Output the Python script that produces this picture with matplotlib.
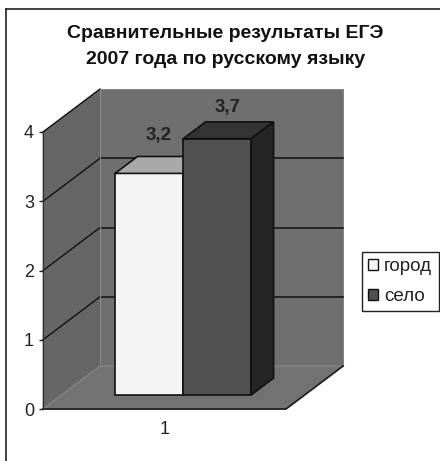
import matplotlib
matplotlib.use('Agg')
import matplotlib.pyplot as plt
from matplotlib.patches import Polygon, Rectangle

categories = ['1']
series_names = ['город', 'село']
series_values = [3.2, 3.7]
value_labels = ['3,2', '3,7']
y_ticks = [0, 1, 2, 3, 4]
title_lines = ['Сравнительные результаты ЕГЭ', '2007 года по русскому языку']

plt.rcParams['font.family'] = ['Liberation Sans', 'DejaVu Sans']

W, H = 440, 461
fig = plt.figure(figsize=(W / 100, H / 100), dpi=100, facecolor='white')
ax = fig.add_axes([43 / W, (H - 409) / H, 243 / W, 277 / H])
ax.set_xlim(0.5, 1.5)
ax.set_ylim(0, 4)
ax.patch.set_visible(False)
for s in ax.spines.values():
    s.set_visible(False)

# depth of the 3d box in data units
dx = 0.2346
dy = 0.62


def proj(x, y, d):
    return (x + dx * d, y + dy * d)


def face(pts, color, z, edge='#111111', lw=1.2):
    ax.add_patch(Polygon(pts, closed=True, facecolor=color, edgecolor=edge,
                         linewidth=lw, clip_on=False, zorder=z, joinstyle='miter'))


x0, x1, y0, y1 = 0.5, 1.5, 0, 4

# walls and floor
face([proj(x0, y0, 1), proj(x1, y0, 1), proj(x1, y1, 1), proj(x0, y1, 1)], '#6f6f6f', 1, edge='#6f6f6f', lw=0.5)
face([proj(x0, y0, 0), proj(x0, y0, 1), proj(x0, y1, 1), proj(x0, y1, 0)], '#666666', 1, edge='#666666', lw=0.5)
face([proj(x0, y0, 0), proj(x1, y0, 0), proj(x1, y0, 1), proj(x0, y0, 1)], '#727272', 1, edge='#727272', lw=0.5)

# grid lines, the top one only runs along the side wall
for v in y_ticks[1:]:
    a, b, c = proj(x0, v, 0), proj(x0, v, 1), proj(x1, v, 1)
    ax.plot([a[0], b[0]], [a[1], b[1]], color='#111111', lw=1.0, clip_on=False, zorder=2)
    if v < y_ticks[-1]:
        ax.plot([b[0], c[0]], [b[1], c[1]], color='#111111', lw=1.1, clip_on=False, zorder=2)
# box outline, lower edges
ax.plot([x0, x1, proj(x1, 0, 1)[0]], [0, 0, proj(x1, 0, 1)[1]], color='#222222', lw=1.3,
        clip_on=False, zorder=3)
ax.plot([x0, x0], [0, 4], color='#333333', lw=0.9, clip_on=False, zorder=3)
ax.plot([x0, proj(x0, 0, 1)[0], proj(x1, 0, 1)[0]], [0, proj(x0, 0, 1)[1], proj(x1, 0, 1)[1]],
        color='#8a8a8a', lw=0.8, clip_on=False, zorder=2)
ax.plot([proj(x0, 0, 1)[0]] * 2, [proj(x0, 0, 1)[1], proj(x0, 4, 1)[1]],
        color='#8a8a8a', lw=0.8, clip_on=False, zorder=2)

# bars
bar_w = 0.28
d_front, d_back = 0.326, 0.72
colors = [('#f4f4f4', '#a9a9a9', '#8c8c8c'), ('#505050', '#333333', '#252525')]
label_offsets = [(-9.4, 15), (-8.7, 10)]
for i, (val, lab) in enumerate(zip(series_values, value_labels)):
    left = 1 - bar_w + i * bar_w
    right = left + bar_w
    front, top, side = colors[i]
    z = 4 + i
    face([proj(left, 0, d_front), proj(right, 0, d_front), proj(right, val, d_front), proj(left, val, d_front)], front, z)
    face([proj(left, val, d_front), proj(right, val, d_front), proj(right, val, d_back), proj(left, val, d_back)], top, z)
    face([proj(right, 0, d_front), proj(right, 0, d_back), proj(right, val, d_back), proj(right, val, d_front)], side, z)
    lx, ly = proj((left + right) / 2, val, d_back)
    ax.annotate(lab, (lx, ly), xytext=label_offsets[i], textcoords='offset points', ha='center', va='center',
                fontsize=13.5, fontweight='bold', color='#222222', zorder=8, annotation_clip=False)

ax.set_yticks(y_ticks)
ax.set_xticks([1])
ax.set_xticklabels(categories)
ax.tick_params(axis='y', length=3, width=1, color='#222222', labelsize=13, pad=3.5, labelcolor='#222222')
ax.tick_params(axis='x', length=0, labelsize=13, pad=8.5, labelcolor='#222222')

fig.text(225.5 / W, 1 - 34 / H, title_lines[0], ha='center', va='center', fontsize=14, fontweight='bold', color='#111111')
fig.text(225.5 / W, 1 - 60 / H, title_lines[1], ha='center', va='center', fontsize=14, fontweight='bold', color='#111111')

# legend
handles = [Rectangle((0, 0), 1, 1, facecolor=colors[i][0], edgecolor='#111111', linewidth=1) for i in range(2)]
leg = fig.legend(handles, series_names, loc='center', bbox_to_anchor=(400 / W, 1 - 281.5 / H), fontsize=13.5,
                 fancybox=False, edgecolor='#222222', framealpha=1, handlelength=0.55, handleheight=0.55,
                 handletextpad=0.33, labelspacing=0.7, borderpad=0.33, borderaxespad=0, labelcolor='#222222')
leg.get_frame().set_linewidth(1)

# outer frame
fig.add_artist(plt.Line2D([6 / W, 6 / W], [0, 1 - 9 / H], color='#222222', lw=1.2))
fig.add_artist(plt.Line2D([6 / W, 1], [1 - 9 / H, 1 - 9 / H], color='#222222', lw=1.2))

fig.savefig('out.png', dpi=100)
